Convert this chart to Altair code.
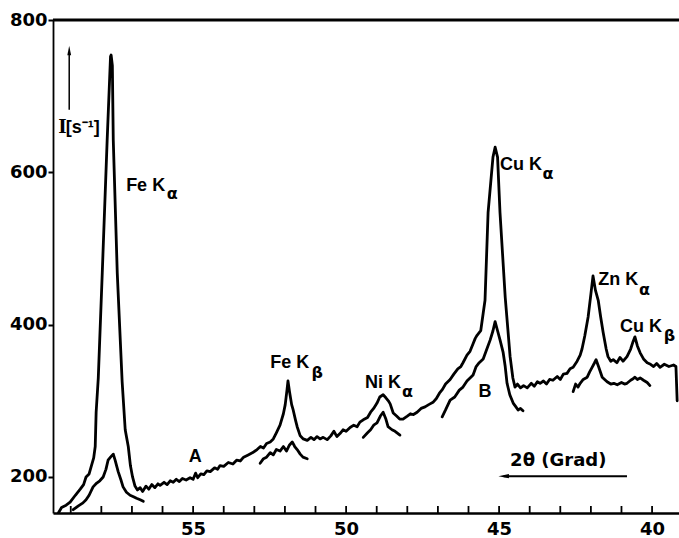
import altair as alt
import pandas as pd

# ---------------- data (2theta in degrees, intensity in counts/s) ----------------
upper_x = [59.40, 59.30, 59.15, 59.02, 58.85, 58.69, 58.58, 58.50, 58.40, 58.33, 58.25, 58.20,
           58.17, 58.10, 57.97, 57.81, 57.70, 57.68, 57.64, 57.61, 57.48, 57.32, 57.22, 57.12,
           57.05, 56.98, 56.90, 56.82, 56.73, 56.65, 56.54, 56.45, 56.35, 56.25, 56.15, 56.08,
           55.95, 55.85, 55.75, 55.65, 55.55, 55.45, 55.35, 55.23, 55.10, 55.00, 54.92, 54.85,
           54.75, 54.65, 54.55, 54.44, 54.30, 54.20, 54.12, 54.00, 53.85, 53.70, 53.58, 53.46,
           53.35, 53.20, 53.05, 52.91, 52.80, 52.70, 52.60, 52.48, 52.38, 52.28, 52.16, 52.05,
           51.99, 51.93, 51.90, 51.85, 51.78, 51.73, 51.65, 51.60, 51.50, 51.40, 51.27, 51.15,
           51.05, 50.95, 50.85, 50.75, 50.62, 50.50, 50.40, 50.30, 50.20, 50.10, 50.00, 49.87,
           49.75, 49.64, 49.55, 49.44, 49.30, 49.20, 49.10, 48.99, 48.90, 48.79, 48.70, 48.62,
           48.56, 48.46, 48.35, 48.25, 48.14, 48.00, 47.90, 47.80, 47.68, 47.55, 47.42, 47.30,
           47.16, 47.05, 46.95, 46.85, 46.75, 46.60, 46.48, 46.35, 46.25, 46.18, 46.05, 45.95,
           45.85, 45.78, 45.72, 45.60, 45.52, 45.46, 45.36, 45.20, 45.13, 45.05, 44.97, 44.80,
           44.64, 44.55, 44.48, 44.40, 44.30, 44.20, 44.08, 43.95, 43.85, 43.75, 43.66, 43.55,
           43.45, 43.35, 43.24, 43.10, 43.00, 42.90, 42.78, 42.68, 42.58, 42.45, 42.35, 42.29,
           42.20, 42.09, 42.00, 41.93, 41.85, 41.76, 41.68, 41.60, 41.50, 41.44, 41.35, 41.27,
           41.15, 41.05, 40.95, 40.82, 40.70, 40.62, 40.56, 40.48, 40.39, 40.28, 40.16, 40.05,
           39.95, 39.85, 39.74, 39.60, 39.45, 39.30, 39.22, 39.18]
upper_y = [153, 160, 163, 167, 176, 184, 190, 200, 204, 214, 225, 240,
           285, 330, 468, 642, 752, 754, 740, 642, 468, 325, 262, 240,
           215, 200, 188, 183, 186, 181, 188, 184, 190, 186, 191, 189,
           193, 190, 195, 193, 197, 194, 198, 196, 199, 197, 205, 199,
           204, 203, 208, 207, 212, 210, 215, 214, 219, 217, 222, 221,
           226, 229, 232, 236, 240, 238, 244, 246, 250, 258, 268, 283,
           295, 315, 326, 312, 295, 288, 274, 266, 254, 250, 248, 252,
           249, 253, 250, 252, 249, 254, 260, 253, 257, 262, 260, 265,
           268, 266, 272, 275, 278, 285, 290, 297, 305, 308, 304, 300,
           296, 284, 280, 276, 276, 280, 283, 282, 285, 290, 292, 295,
           298, 303, 310, 315, 322, 328, 335, 342, 345, 350, 360, 365,
           375, 382, 386, 392, 415, 432, 547, 620, 633, 620, 547, 436,
           358, 330, 318, 322, 317, 320, 317, 323, 319, 325, 323, 326,
           322, 328, 327, 332, 328, 335, 336, 342, 344, 352, 360, 368,
           385, 410, 440, 464, 445, 432, 410, 390, 368, 358, 352, 354,
           350, 357, 352, 358, 368, 378, 384, 372, 363, 355, 350, 348,
           345, 349, 344, 348, 345, 347, 345, 300]

lower1_x = [58.92, 58.75, 58.60, 58.50, 58.40, 58.27, 58.15, 58.05, 57.94, 57.85, 57.78, 57.70,
            57.61, 57.55, 57.45, 57.35, 57.29, 57.18, 57.06, 56.95, 56.85, 56.73, 56.63]
lower1_y = [157, 162, 166, 170, 176, 187, 192, 195, 200, 210, 222, 226,
            230, 222, 207, 195, 187, 180, 176, 174, 172, 170, 168]

lower2_x = [52.81, 52.70, 52.60, 52.48, 52.38, 52.28, 52.16, 52.05, 51.95, 51.85, 51.76, 51.68,
            51.60, 51.50, 51.41, 51.27]
lower2_y = [218, 224, 226, 232, 229, 236, 234, 240, 234, 242, 246, 240,
            236, 230, 226, 224]

lower3_x = [49.44, 49.30, 49.20, 49.10, 48.99, 48.88, 48.79, 48.70, 48.63, 48.50, 48.40, 48.24]
lower3_y = [252, 258, 262, 268, 271, 280, 285, 276, 266, 262, 260, 255]

lower4_x = [46.86, 46.75, 46.60, 46.45, 46.30, 46.18, 46.05, 45.95, 45.85, 45.75, 45.65, 45.52,
            45.40, 45.29, 45.20, 45.13, 45.05, 44.97, 44.87, 44.80, 44.74, 44.65, 44.54, 44.45,
            44.38, 44.30, 44.22]
lower4_y = [279, 288, 301, 305, 314, 318, 326, 330, 334, 345, 350, 355,
            368, 380, 392, 404, 392, 380, 364, 345, 323, 308, 297, 292,
            288, 290, 287]

lower5_x = [42.58, 42.50, 42.42, 42.35, 42.25, 42.12, 42.04, 41.96, 41.88, 41.83, 41.75, 41.63,
            41.55, 41.47, 41.35, 41.25, 41.14, 41.00, 40.90, 40.82, 40.70, 40.62, 40.56, 40.48,
            40.39, 40.28, 40.16, 40.07]
lower5_y = [312, 322, 318, 323, 328, 331, 338, 344, 350, 354, 345, 331,
            328, 325, 322, 323, 321, 324, 322, 323, 327, 329, 331, 328,
            330, 327, 324, 320]

x_tick_labels = [40, 45, 50, 55]
x_minor_ticks = list(range(40, 60))
y_tick_labels = [200, 400, 600, 800]

# peak labels: main text, its anchor, subscript and its anchor
label_text = ["Fe K", "Fe K", "Ni K", "Cu K", "Zn K", "Cu K"]
label_x = [57.19, 52.48, 49.38, 44.97, 41.76, 41.05]
label_y = [582, 350, 323, 610, 459, 397]
sub_text = ["α", "β", "α", "α", "α", "β"]
sub_x = [55.86, 51.13, 48.17, 43.58, 40.43, 39.62]
sub_y = [572, 336, 311, 598, 446, 385]

mark_text = ["A", "B"]
mark_x = [54.93, 45.46]
mark_y = [226, 312]

# ---------------- build tables ----------------
rows = []
for seg, (xs_, ys_) in enumerate([(upper_x, upper_y), (lower1_x, lower1_y), (lower2_x, lower2_y),
                                  (lower3_x, lower3_y), (lower4_x, lower4_y), (lower5_x, lower5_y)]):
    for i, (a, b) in enumerate(zip(xs_, ys_)):
        rows.append({"seg": seg, "i": i, "x": a, "y": b})
df = pd.DataFrame(rows)

lab_df = pd.DataFrame({"x": label_x, "y": label_y, "t": label_text})
sub_df = pd.DataFrame({"x": sub_x, "y": sub_y, "t": sub_text})
ab_df = pd.DataFrame({"x": mark_x, "y": mark_y, "t": mark_text})
tick_df = pd.DataFrame({"x": x_minor_ticks})

W, H = 626, 493
FONT = "DejaVu Sans"
LFONT = "Liberation Sans"
xscale = alt.Scale(domain=[39.12, 59.58], reverse=True, nice=False, zero=False)
yscale = alt.Scale(domain=[152.7, 800], nice=False, zero=False)

X = lambda: alt.X("x:Q", title=None)
Y = lambda: alt.Y("y:Q", title=None)

lines = alt.Chart(df).mark_line(color="black", strokeWidth=2.8, clip=True,
                                strokeJoin="round", strokeCap="round").encode(
    x=alt.X("x:Q", title=None, scale=xscale,
            axis=alt.Axis(values=x_tick_labels, format="d", ticks=False, labelPadding=7,
                          domainWidth=2.5)),
    y=alt.Y("y:Q", title=None, scale=yscale,
            axis=alt.Axis(values=y_tick_labels, format="d", ticks=True, tickSize=5,
                          tickWidth=2, labelPadding=1, domainWidth=1.8)),
    detail="seg:N",
    order="i:Q",
)

ticks = alt.Chart(tick_df).mark_rule(color="black", strokeWidth=1.8).encode(
    x=X(), y=alt.value(H), y2=alt.value(H - 7))

top_line = alt.Chart(pd.DataFrame({"a": [0]})).mark_rule(color="black", strokeWidth=3).encode(
    x=alt.value(0), x2=alt.value(W), y=alt.value(0))

labels = alt.Chart(lab_df).mark_text(font=LFONT, fontWeight="bold", fontSize=18, align="left",
                                     baseline="middle", color="black").encode(x=X(), y=Y(), text="t:N")
subs = alt.Chart(sub_df).mark_text(font=FONT, fontWeight="bold", fontSize=16, align="left",
                                   baseline="middle", color="black").encode(x=X(), y=Y(), text="t:N")
ab = alt.Chart(ab_df).mark_text(font=LFONT, fontWeight="bold", fontSize=18, align="center",
                                baseline="middle", color="black").encode(x=X(), y=Y(), text="t:N")

# intensity label and arrow
i_df = pd.DataFrame({"x": [59.41], "y": [658], "t": ["I"]})
s_df = pd.DataFrame({"x": [59.16], "y": [658], "t": ["[s⁻¹]"]})
i_lab = alt.Chart(i_df).mark_text(font="DejaVu Serif", fontWeight="bold", fontSize=18, align="left",
                                  baseline="middle", color="black").encode(x=X(), y=Y(), text="t:N")
s_lab = alt.Chart(s_df).mark_text(font=LFONT, fontWeight="bold", fontSize=18, align="left",
                                  baseline="middle", color="black").encode(x=X(), y=Y(), text="t:N")
yarrow = alt.Chart(pd.DataFrame({"x": [59.05], "y": [682], "y2": [758]})).mark_rule(
    color="black", strokeWidth=1.5).encode(x=X(), y=Y(), y2="y2:Q")
yhead = alt.Chart(pd.DataFrame({"x": [59.05], "y": [760]})).mark_point(
    shape="M0,-1L-0.4,1L0.4,1Z", filled=True, size=90, color="black", opacity=1).encode(x=X(), y=Y())

# 2-theta label and arrow
t_df = pd.DataFrame({"x": [44.64], "y": [221], "t": ["2θ (Grad)"]})
t_lab = alt.Chart(t_df).mark_text(font=FONT, fontWeight="bold", fontSize=18, align="left",
                                  baseline="middle", color="black").encode(x=X(), y=Y(), text="t:N")
xarrow = alt.Chart(pd.DataFrame({"x": [40.82], "x2": [44.85], "y": [201]})).mark_rule(
    color="black", strokeWidth=2).encode(x=X(), x2="x2:Q", y=Y())
xhead = alt.Chart(pd.DataFrame({"x": [44.85], "y": [201]})).mark_point(
    shape="M-1,0L1,-0.4L1,0.4Z", filled=True, size=110, color="black", opacity=1).encode(x=X(), y=Y())

chart = alt.layer(lines, ticks, top_line, labels, subs, ab, i_lab, s_lab, yarrow, yhead,
                  t_lab, xarrow, xhead).properties(
    width=W, height=H,
    padding={"left": 53, "top": 20, "right": 0, "bottom": 25},
    autosize=alt.AutoSizeParams(type="none"),
    background="white",
).configure_view(stroke=None).configure_axis(
    grid=False, labelFont=FONT, labelFontWeight="bold", labelFontSize=18, labelColor="black",
    domainColor="black", tickColor="black", labelOverlap=False, labelBound=False,
)

chart.save("out.html", embed_options={"renderer": "svg", "actions": False})
